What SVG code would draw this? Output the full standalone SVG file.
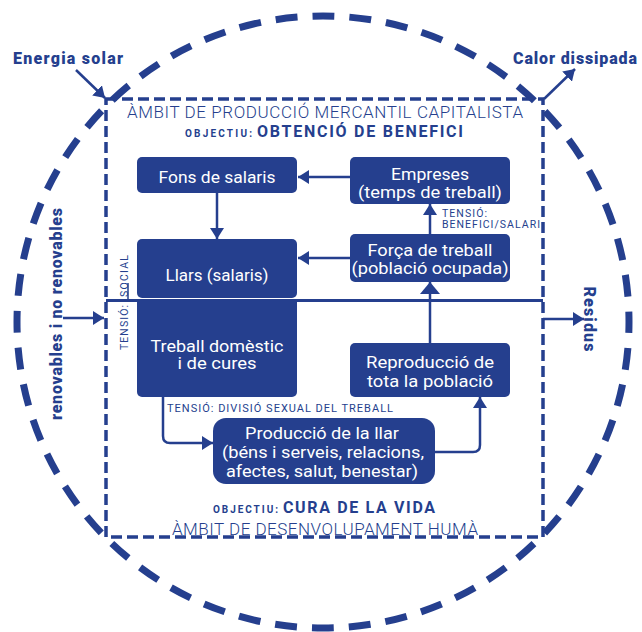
<svg xmlns="http://www.w3.org/2000/svg" width="642" height="632" viewBox="0 0 642 632">
<style>
.box{fill:#253f8e}
.bt{font-family:Roboto,"Liberation Sans",sans-serif;font-size:16px;fill:#fff;text-anchor:middle}
.lbl{font-family:Roboto,"Liberation Sans",sans-serif;fill:#253f8e}
.big{font-family:Roboto,"Liberation Sans",sans-serif;font-weight:900;font-size:16px;fill:#253f8e}
.ln{fill:none;stroke:#253f8e;stroke-width:2.5}
</style>
<defs>
<marker id="ah" markerUnits="userSpaceOnUse" markerWidth="12" markerHeight="14" refX="11" refY="7" orient="auto">
<path d="M0,0 L11,7 L0,14 z" fill="#253f8e"/>
</marker>
<marker id="ahb" markerUnits="userSpaceOnUse" markerWidth="13" markerHeight="20" refX="12" refY="10" orient="auto">
<path d="M0,0 L12,10 L0,20 z" fill="#253f8e"/>
</marker>
</defs>
<g id="frame">
<circle cx="323" cy="322" r="306" fill="none" stroke="#253f8e" stroke-width="7" stroke-dasharray="22 14.97" stroke-dashoffset="11"/>
<rect x="106" y="99" width="437" height="438" fill="none" stroke="#253f8e" stroke-width="3.5" stroke-dasharray="11 5"/>
<line x1="106" y1="300.5" x2="543" y2="300.5" stroke="#253f8e" stroke-width="3"/>
</g>
<g id="texts">
<text class="big" x="13" y="64" textLength="110">Energia solar</text>
<text class="big" x="513" y="64" textLength="124">Calor dissipada</text>
<text class="big" transform="translate(62,314) rotate(-90)" text-anchor="middle" textLength="212">renovables i no renovables</text>
<text class="big" transform="translate(584,319) rotate(90)" text-anchor="middle" textLength="65">Residus</text>
<text class="lbl" x="325" y="118" font-size="17" font-weight="300" text-anchor="middle" textLength="396">ÀMBIT DE PRODUCCIÓ MERCANTIL CAPITALISTA</text>
<text class="lbl" x="185" y="136.5" font-size="10" font-weight="700" textLength="67">OBJECTIU:</text>
<text class="lbl" x="257" y="136.5" font-size="16" font-weight="700" textLength="206">OBTENCIÓ DE BENEFICI</text>
<text class="lbl" x="213" y="513" font-size="10" font-weight="700" textLength="65">OBJECTIU:</text>
<text class="lbl" x="283" y="513" font-size="16" font-weight="700" textLength="152">CURA DE LA VIDA</text>
<text class="lbl" x="325" y="535" font-size="17" font-weight="300" text-anchor="middle" textLength="306">ÀMBIT DE DESENVOLUPAMENT HUMÀ</text>
<text class="lbl" x="167" y="412" font-size="11" textLength="226">TENSIÓ: DIVISIÓ SEXUAL DEL TREBALL</text>
<text class="lbl" x="442" y="216.5" font-size="10.5" textLength="45">TENSIÓ:</text>
<text class="lbl" x="442" y="228" font-size="10.5" textLength="98">BENEFICI/SALARI</text>
<text class="lbl" transform="translate(128,350) rotate(-90)" font-size="10.5" textLength="45">TENSIÓ:</text>
<text class="lbl" transform="translate(128,297) rotate(-90)" font-size="10.5" textLength="42">SOCIAL</text>
<line x1="128" y1="283" x2="128" y2="300" stroke="#253f8e" stroke-width="1.5"/>
<line x1="106" y1="300.5" x2="137" y2="300.5" stroke="#253f8e" stroke-width="3"/>
</g>
<g id="fons">
<rect class="box" x="137" y="157" width="160" height="36" rx="5"/>
<text class="bt" x="217" y="183" textLength="117" lengthAdjust="spacingAndGlyphs">Fons de salaris</text>
</g>
<g id="empreses">
<rect class="box" x="350" y="157" width="160" height="47" rx="5"/>
<text class="bt" x="430" y="180" textLength="78" lengthAdjust="spacingAndGlyphs">Empreses</text>
<text class="bt" x="430" y="198" textLength="144" lengthAdjust="spacingAndGlyphs">(temps de treball)</text>
</g>
<g id="forca">
<rect class="box" x="350" y="234" width="160" height="48" rx="5"/>
<text class="bt" x="430" y="256" textLength="125" lengthAdjust="spacingAndGlyphs">Força de treball</text>
<text class="bt" x="430" y="274" textLength="157" lengthAdjust="spacingAndGlyphs">(població ocupada)</text>
</g>
<g id="llars">
<rect class="box" x="137" y="239" width="160" height="59" rx="5"/>
<text class="bt" x="217" y="281" textLength="103" lengthAdjust="spacingAndGlyphs">Llars (salaris)</text>
</g>
<g id="treball">
<rect class="box" x="137" y="303" width="160" height="94" rx="5"/>
<rect class="box" x="137" y="302" width="160" height="10"/>
<text class="bt" x="217" y="351.5" textLength="133" lengthAdjust="spacingAndGlyphs">Treball domèstic</text>
<text class="bt" x="217" y="369" textLength="79" lengthAdjust="spacingAndGlyphs">i de cures</text>
</g>
<g id="reproduccio">
<rect class="box" x="350" y="343" width="160" height="54" rx="5"/>
<text class="bt" x="430" y="368" textLength="128" lengthAdjust="spacingAndGlyphs">Reproducció de</text>
<text class="bt" x="430" y="386.5" textLength="126" lengthAdjust="spacingAndGlyphs">tota la població</text>
</g>
<g id="produccio">
<rect class="box" x="213" y="418" width="222" height="66" rx="13"/>
<text class="bt" x="322" y="439" textLength="154" lengthAdjust="spacingAndGlyphs">Producció de la llar</text>
<text class="bt" x="323" y="458" textLength="202" lengthAdjust="spacingAndGlyphs">(béns i serveis, relacions,</text>
<text class="bt" x="322" y="477" textLength="192" lengthAdjust="spacingAndGlyphs">afectes, salut, benestar)</text>
</g>
<g id="connectors">
<line class="ln" x1="350" y1="177" x2="298" y2="177" marker-end="url(#ah)"/>
<line class="ln" x1="217" y1="193" x2="217" y2="239" marker-end="url(#ah)"/>
<line class="ln" x1="350" y1="258" x2="298" y2="258" marker-end="url(#ah)"/>
<line class="ln" x1="430" y1="234" x2="430" y2="204" marker-end="url(#ah)"/>
<line class="ln" x1="430" y1="343" x2="430" y2="282" stroke-width="4" marker-end="url(#ahb)"/>
<path class="ln" d="M163,397 V436 Q163,443 170,443 H213" marker-end="url(#ah)"/>
<path class="ln" d="M435,452 H473 Q480,452 480,445 V397" marker-end="url(#ah)"/>
<line class="ln" x1="63" y1="318" x2="104" y2="318" marker-end="url(#ah)"/>
<line class="ln" x1="543" y1="319" x2="584" y2="319" marker-end="url(#ah)"/>
<line class="ln" x1="76" y1="70" x2="105" y2="98" marker-end="url(#ah)"/>
<line class="ln" x1="544" y1="99" x2="575" y2="69" marker-end="url(#ah)"/>
</g>
</svg>
